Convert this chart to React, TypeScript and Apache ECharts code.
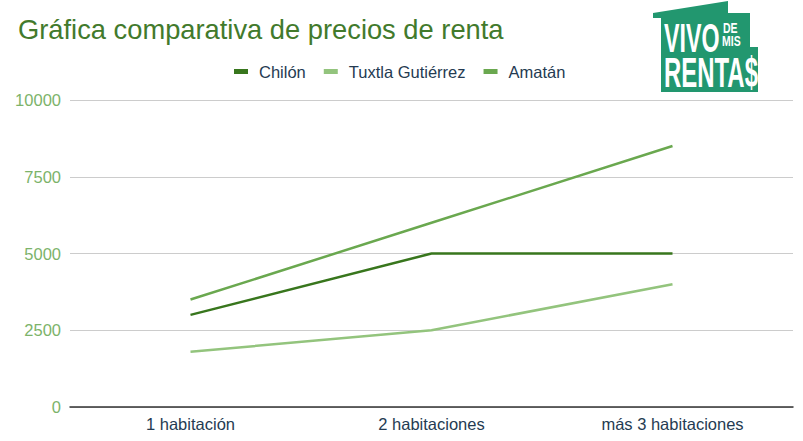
import React, { useEffect, useRef } from "react";
import * as echarts from "echarts";

const categories = ["1 habitación", "2 habitaciones", "más 3 habitaciones"];
const chilon = [3000, 5000, 5000];
const tuxtla = [1800, 2500, 4000];
const amatan = [3500, 6000, 8500];
const seriesNames = ["Chilón", "Tuxtla Gutiérrez", "Amatán"];
const seriesColors = ["#38761d", "#93c47d", "#6aa84f"];

export default function App() {
  const ref = useRef<HTMLDivElement>(null);
  useEffect(() => {
    const chart = echarts.init(ref.current!, null, { renderer: "svg" });
    const font = "Liberation Sans, Arial, sans-serif";
    const logoColor = "#22976f";
    chart.setOption({
      animation: false,
      backgroundColor: "#ffffff",
      title: {
        text: "Gráfica comparativa de precios de renta",
        left: 13,
        top: 11,
        textStyle: { color: "#427a2c", fontSize: 27.3, fontWeight: "normal", fontFamily: font },
      },
      legend: {
        top: 58,
        left: 229,
        icon: "rect",
        itemWidth: 14,
        itemHeight: 5,
        itemGap: 18,
        textStyle: { color: "#253b52", fontSize: 16.5, fontFamily: font, padding: [0, 0, 0, 6] },
        data: seriesNames,
      },
      grid: { left: 70, right: 10, top: 100, bottom: 34, containLabel: false },
      xAxis: {
        type: "category",
        data: categories,
        boundaryGap: true,
        axisTick: { show: false },
        axisLine: { lineStyle: { color: "#333333", width: 1.5 } },
        axisLabel: { color: "#253b52", fontSize: 16.5, fontFamily: font, margin: 8 },
      },
      yAxis: {
        type: "value",
        min: 0,
        max: 10000,
        interval: 2500,
        axisLine: { show: false },
        axisTick: { show: false },
        splitLine: { lineStyle: { color: "#cccccc", width: 1 } },
        axisLabel: {
          color: "#7cb36a",
          fontSize: 16.5,
          fontFamily: font,
          margin: 9,
          formatter: (v: number) => String(v),
        },
      },
      series: [chilon, tuxtla, amatan].map((d, i) => ({
        name: seriesNames[i],
        type: "line",
        data: d,
        showSymbol: false,
        symbol: "none",
        lineStyle: { color: seriesColors[i], width: 2.5 },
        itemStyle: { color: seriesColors[i] },
      })),
      graphic: [
        {
          type: "polygon",
          shape: {
            points: [
              [653, 13], [728, 1], [728, 13], [750, 13], [750, 47], [758, 47],
              [758, 92], [661, 92], [661, 18], [653, 18],
            ],
          },
          style: { fill: logoColor },
        },
        {
          type: "text",
          x: 664, y: 18, scaleX: 0.58,
          style: { text: "VIVO", fill: "#ffffff", fontSize: 40, fontWeight: "bold", fontFamily: font },
        },
        {
          type: "text",
          x: 723, y: 20, scaleX: 0.7,
          style: { text: "DE", fill: "#ffffff", fontSize: 15, fontWeight: "bold", fontFamily: font },
        },
        {
          type: "text",
          x: 722, y: 33, scaleX: 0.7,
          style: { text: "MIS", fill: "#ffffff", fontSize: 15, fontWeight: "bold", fontFamily: font },
        },
        {
          type: "text",
          x: 664, y: 51, scaleX: 0.57,
          style: { text: "RENTA$", fill: "#ffffff", fontSize: 42, fontWeight: "bold", fontFamily: font },
        },
      ],
    });
    return () => chart.dispose();
  }, []);
  return <div ref={ref} style={{ width: 803, height: 441, position: "absolute", left: 0, top: 0 }} />;
}
